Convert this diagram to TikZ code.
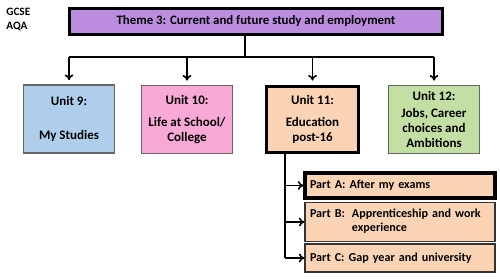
\documentclass[tikz,border=0pt]{standalone}
\usepackage{fontspec}
\setmainfont{Carlito}
\usetikzlibrary{arrows.meta}
\definecolor{themepurple}{HTML}{BC8DDF}
\definecolor{studyblue}{HTML}{AECEEB}
\definecolor{schoolpink}{HTML}{F9A9D5}
\definecolor{educpeach}{HTML}{FBD4B6}
\definecolor{jobsgreen}{HTML}{C3DFA3}

\tikzset{
  unitbox/.style={draw=gray!80!black, line width=0.6pt, minimum width=1.82cm,
    minimum height=1.36cm, align=center, inner sep=1pt,
    font=\fontsize{7.4}{8.6}\selectfont\bfseries},
  thickbox/.style={draw=black, line width=1.8pt},
  partbox/.style={draw=black!80, line width=0.6pt, fill=educpeach,
    minimum width=3.8cm, text width=3.6cm, align=left, inner xsep=0.1cm,
    font=\fontsize{6.9}{8}\selectfont\bfseries},
  link/.style={line width=0.9pt},
  tolink/.style={link, -{To[length=3.2pt,width=5pt]}}
}

\begin{document}
\begin{tikzpicture}[x=0.02cm,y=-0.02cm]
  \useasboundingbox (0,0) rectangle (500,279);
  % header
  \node[anchor=north west, align=left, inner sep=0pt,
    font=\fontsize{6.4}{7.6}\selectfont\bfseries] (exam) at (6,8) {GCSE\\AQA};
  \node[thickbox, fill=themepurple, minimum width=7.46cm, minimum height=0.52cm,
    font=\fontsize{7.3}{8}\selectfont\bfseries] (theme) at (256,21.5)
    {Theme 3: Current and future study and employment};
  % units
  \node[unitbox, fill=studyblue] (u9) at (69,119) {Unit 9:\\[11pt]My Studies};
  \node[unitbox, fill=schoolpink] (u10) at (187,119.5) {Unit 10:\\[3.5pt]Life at School/\\College};
  \node[unitbox, thickbox, fill=educpeach, minimum width=1.84cm, minimum height=1.32cm]
    (u11) at (312.5,119.5) {Unit 11:\\[3.5pt]Education\\post-16};
  \node[unitbox, fill=jobsgreen] (u12) at (434,119.5) {Unit 12:\\[1pt]Jobs, Career\\choices and\\Ambitions};
  % parts of unit 11
  \node[partbox, thickbox, minimum height=0.5cm] (pa) at (400,185.5) {Part A: After my exams};
  \node[partbox, minimum height=0.68cm] (pb) at (400,222)
    {\begin{tabular}{@{}l@{\hspace{4pt}}l@{}}Part B: & Apprenticeship and work\\ & experience\end{tabular}};
  \node[partbox, minimum height=0.56cm] (pc) at (400,258) {Part C: Gap year and university};
  % connectors
  \coordinate (bus) at (245,57);
  \draw[link] (bus |- theme.south) -- (bus);
  \draw[link] (u9.north |- bus) -- (u12.north |- bus);
  \foreach \u in {u9,u10,u11,u12}
    \draw[tolink, shorten >=2.5pt] (\u.north |- bus) -- (\u.north);
  \coordinate (drop) at ([xshift=0.4cm]u11.south west);
  \draw[link] (drop) -- (drop |- pc.west);
  \foreach \p in {pa,pb,pc}
    \draw[tolink] (drop |- \p.west) -- (\p.west);
\end{tikzpicture}
\end{document}
